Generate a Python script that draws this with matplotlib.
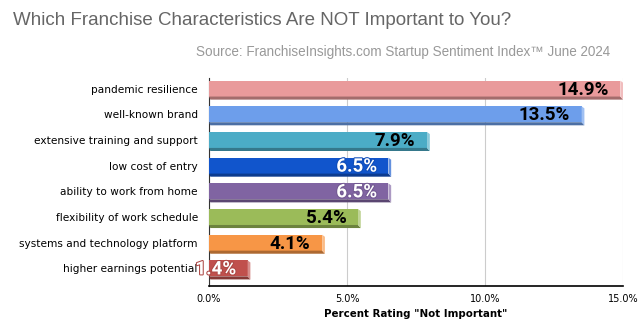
import matplotlib.pyplot as plt
from matplotlib.patches import Polygon
import matplotlib.patheffects as pe
import matplotlib.colors as mcolors
import numpy as np

categories = [
    "pandemic resilience",
    "well-known brand",
    "extensive training and support",
    "low cost of entry",
    "ability to work from home",
    "flexibility of work schedule",
    "systems and technology platform",
    "higher earnings potential",
]
values = [14.9, 13.5, 7.9, 6.5, 6.5, 5.4, 4.1, 1.4]
colors = ["#E99A9B", "#6D9EEB", "#4BACC6", "#1155CC", "#8064A2", "#9BBB59", "#F79646", "#C0504D"]
label_colors = ["black", "black", "black", "white", "white", "black", "black", "white"]
xticks = [0, 5, 10, 15]


def shade(c, f):
    r, g, b = mcolors.to_rgb(c)
    if f < 1:
        return (r * f, g * f, b * f)
    f = f - 1
    return (r + (1 - r) * f, g + (1 - g) * f, b + (1 - b) * f)


fig = plt.figure(figsize=(6.41, 3.35), dpi=100)
ax = fig.add_axes([0.326, 0.146, 0.646, 0.621])

y = np.arange(len(categories))
h = 0.62
for i, (v, c) in enumerate(zip(values, colors)):
    top = i - 0.4
    bot = top + h
    # main face
    ax.barh(top + h / 2, v, height=h, color=c, zorder=3)
    # bottom darker strip
    ax.add_patch(Polygon([(0, bot), (v, bot), (v + 0.1, bot + 0.12), (0.05, bot + 0.12)],
                         closed=True, color=shade(c, 0.7), zorder=3, lw=0))
    # right bevel
    ax.add_patch(Polygon([(v, top), (v + 0.1, top + 0.08), (v + 0.1, bot + 0.12), (v, bot)],
                         closed=True, color=shade(c, 1.35), zorder=3, lw=0))
    txt = ax.text(v - 0.42, top + h / 2 + 0.04, f"{v:.1f}%", ha="right", va="center",
                  fontsize=13.5, fontweight="bold", color=label_colors[i],
                  family="Roboto", zorder=5)
    if label_colors[i] == "white":
        txt.set_path_effects([pe.withStroke(linewidth=1.5, foreground=shade(c, 0.9))])

ax.set_xlim(0, 15)
ax.set_ylim(len(categories) - 0.4, -0.5)
ax.set_yticks(y - 0.09)
ax.set_yticklabels(categories, fontsize=7.6, family="DejaVu Sans")
ax.tick_params(axis="y", length=0, pad=8)
ax.set_xticks(xticks)
ax.set_xticklabels([f"{t:.1f}%" for t in xticks], fontsize=7)
ax.tick_params(axis="x", length=0, pad=6)
ax.grid(axis="x", color="#cccccc", lw=0.8, zorder=0)
for s in ["top", "right"]:
    ax.spines[s].set_visible(False)
ax.spines["left"].set_color("#333333")
ax.spines["bottom"].set_color("black")
ax.spines["bottom"].set_linewidth(1.2)
ax.set_xlabel('Percent Rating "Not Important"', fontsize=7.4, fontweight="bold", labelpad=3)

fig.text(0.02, 0.94, "Which Franchise Characteristics Are NOT Important to You?",
         fontsize=13.5, color="#666666", family="Liberation Sans", va="center")
fig.text(0.952, 0.845, "Source: FranchiseInsights.com Startup Sentiment Index\u2122 June 2024",
         fontsize=9.75, color="#999999", family="Liberation Sans", ha="right", va="center")

fig.savefig("out.png", dpi=100)
